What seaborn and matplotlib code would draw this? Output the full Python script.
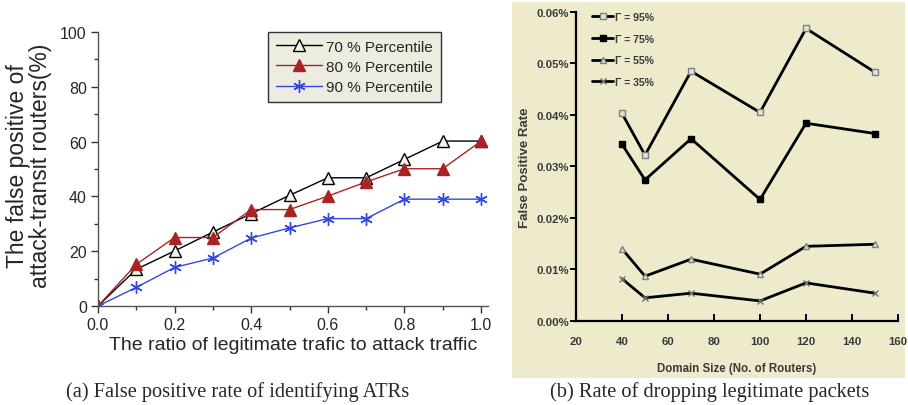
import numpy as np
import pandas as pd
import matplotlib
matplotlib.use("Agg")
import matplotlib.pyplot as plt
from matplotlib.patches import Rectangle
from matplotlib.ticker import MultipleLocator, FuncFormatter
import seaborn as sns

# ---- data ----
# (a) false positive rate of identifying ATRs
ratio = [0.0, 0.1, 0.2, 0.3, 0.4, 0.5, 0.6, 0.7, 0.8, 0.9, 1.0]
p70 = [0, 13.4, 20.1, 27.0, 33.7, 40.4, 46.8, 46.8, 53.5, 60.2, 60.2]
p80 = [0, 15.2, 25.0, 25.0, 35.2, 35.2, 40.1, 45.3, 50.1, 50.1, 60.2]
p90 = [0, 6.8, 14.1, 17.5, 24.8, 28.5, 31.9, 31.9, 39.0, 39.0, 39.0]

# (b) rate of dropping legitimate packets (values in %)
domain = [40, 50, 70, 100, 120, 150]
g95 = [0.0403, 0.0322, 0.0485, 0.0405, 0.0568, 0.0483]
g75 = [0.0343, 0.0274, 0.0354, 0.0236, 0.0384, 0.0364]
g55 = [0.0140, 0.0087, 0.0120, 0.0091, 0.0145, 0.0149]
g35 = [0.0082, 0.0045, 0.0054, 0.0039, 0.0074, 0.0054]

sns.set_theme(style="ticks")
plt.rcParams['font.family'] = ['Liberation Sans', 'DejaVu Sans']

yellow = '#EDEBCB'
fig = plt.figure(figsize=(9.08, 4.06), dpi=100)
fig.patch.set_facecolor('white')
bg = Rectangle((0.564, 0.066), 0.433, 0.927, transform=fig.transFigure,
               facecolor=yellow, edgecolor='none', zorder=-5)
fig.add_artist(bg)

# ----------------------------------------------------
# left panel
# ----------------------------------------------------
ax1 = fig.add_axes([0.1079, 0.2438, 0.4295, 0.6749])
sns.lineplot(x=ratio, y=p70, ax=ax1, color='black', lw=1, marker='^', markersize=8,
             markerfacecolor='#F2F2E6', markeredgecolor='black', markeredgewidth=1,
             label='70 % Percentile')
sns.lineplot(x=ratio, y=p80, ax=ax1, color='#A82424', lw=1, marker='^', markersize=8,
             markerfacecolor='#A82424', markeredgecolor='#A82424', markeredgewidth=1,
             label='80 % Percentile')
sns.lineplot(x=ratio, y=p90, ax=ax1, color='#3348E0', lw=1, marker=(6, 2, 0), markersize=9,
             markeredgecolor='#3348E0', markeredgewidth=1, label='90 % Percentile')

ax1.set_xlim(0, 1.018)
ax1.set_ylim(0, 100)
ax1.set_xticks(np.arange(0, 1.01, 0.2))
ax1.set_yticks(np.arange(0, 101, 20))
ax1.xaxis.set_minor_locator(MultipleLocator(0.1))
ax1.yaxis.set_minor_locator(MultipleLocator(10))
ax1.xaxis.set_major_formatter(FuncFormatter(lambda v, p: f'{v:.1f}'))
for s in ['top', 'right']:
    ax1.spines[s].set_visible(False)
for s in ['left', 'bottom']:
    ax1.spines[s].set_color('#555555')
    ax1.spines[s].set_linewidth(1)
ax1.tick_params(which='major', length=5, width=1, color='#333333', labelsize=11.5, pad=3)
ax1.tick_params(which='minor', length=3, width=1, color='#333333')
ax1.set_xlabel('The ratio of legitimate trafic to attack traffic', fontsize=14, labelpad=3)
ax1.set_ylabel('The false positive of\nattack-transit routers(%)', fontsize=16.5,
               linespacing=1.0)
ax1.yaxis.set_label_coords(-0.117, 0.515)
leg = ax1.legend(loc='upper right', bbox_to_anchor=(0.8795, 1.0), fontsize=11,
                 frameon=True, fancybox=False, framealpha=1, facecolor='#ECECE1',
                 edgecolor='#333333', handlelength=3.0, borderpad=0.5,
                 labelspacing=0.4, handletextpad=0.3, borderaxespad=0)
leg.get_frame().set_linewidth(1)

# ----------------------------------------------------
# right panel
# ----------------------------------------------------
ax2 = fig.add_axes([0.6344, 0.2069, 0.3546, 0.7611])
ax2.set_facecolor(yellow)
common = dict(ax=ax2, color='black', lw=2, markeredgewidth=1)
sns.lineplot(x=domain, y=g95, marker='s', markersize=5, markerfacecolor='#E2E2D6',
             markeredgecolor='#808080', label='\u0393 = 95%', **common)
sns.lineplot(x=domain, y=g75, marker='s', markersize=5, markerfacecolor='black',
             markeredgecolor='black', label='\u0393 = 75%', **common)
sns.lineplot(x=domain, y=g55, marker='^', markersize=5, markerfacecolor='#E2E2D6',
             markeredgecolor='#808080', label='\u0393 = 55%', **common)
sns.lineplot(x=domain, y=g35, marker='x', markersize=5,
             markeredgecolor='#707070', label='\u0393 = 35%', **common)

ax2.set_xlim(20, 160)
ax2.set_ylim(0, 0.06)
ax2.set_xticks(np.arange(20, 161, 20))
ax2.set_yticks(np.arange(0, 0.0601, 0.01))
ax2.yaxis.set_major_formatter(FuncFormatter(lambda v, p: f'{v:.2f}%'))
for s in ['top', 'right']:
    ax2.spines[s].set_visible(False)
for s in ['left', 'bottom']:
    ax2.spines[s].set_color('black')
    ax2.spines[s].set_linewidth(1.6)
ax2.tick_params(axis='y', direction='out', length=4, width=1.4, color='black',
                labelsize=8.2, labelcolor='#3A3A3A', pad=1)
ax2.tick_params(axis='x', direction='in', length=5, width=1.4, color='black',
                labelsize=8.2, labelcolor='#3A3A3A', pad=11)
for t in ax2.get_xticklabels() + ax2.get_yticklabels():
    t.set_fontweight('bold')
ax2.set_xlabel('Domain Size (No. of Routers)', fontsize=8.3, fontweight='bold',
               color='#3A3A3A', labelpad=11)
ax2.set_ylabel('False Positive Rate', fontsize=9.5, fontweight='bold',
               color='#3A3A3A', labelpad=4)
leg2 = ax2.legend(loc='upper left', bbox_to_anchor=(0.03, 1.02), frameon=False,
                  fontsize=7.6, handlelength=2.0, labelspacing=1.1, handletextpad=0.2,
                  borderaxespad=0.2)
for t in leg2.get_texts():
    t.set_color('#3A3A3A')
    t.set_fontweight('bold')

# captions
cap = dict(ha='center', va='center', fontsize=14.7, family=['Liberation Serif', 'DejaVu Serif'])
fig.text(238 / 908, 0.034, '(a) False positive rate of identifying ATRs', **cap)
fig.text(710 / 908, 0.034, '(b) Rate of dropping legitimate packets', **cap)

fig.savefig('out.png', dpi=100)
